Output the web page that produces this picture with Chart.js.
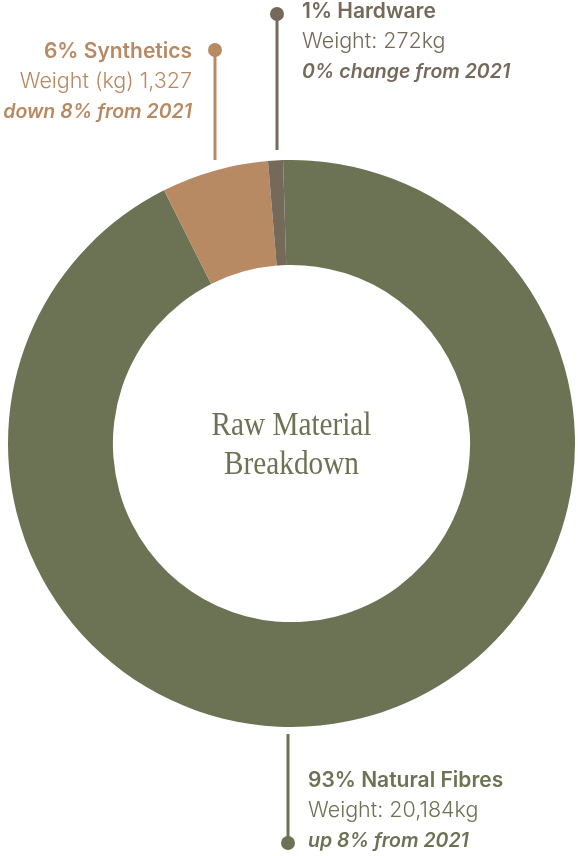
<!DOCTYPE html>
<html>
<head>
<meta charset="utf-8">
<script src="https://cdn.jsdelivr.net/npm/chart.js@4"></script>
<style>
  html, body { margin: 0; padding: 0; background: #fff; }
  #wrap { position: relative; width: 578px; height: 856px; }
</style>
</head>
<body>
<div id="wrap"><canvas id="donut" width="578" height="856"></canvas></div>
<script>
// data
var categories = ['Natural Fibres', 'Synthetics', 'Hardware'];
var shares = [93.05, 6.1, 0.85];           // slice sizes as drawn (%)
var shareLabels = ['93%', '6%', '1%'];
var weightLabels = ['Weight: 20,184kg', 'Weight (kg) 1,327', 'Weight: 272kg'];
var changeLabels = ['up 8% from 2021', 'down 8% from 2021', '0% change from 2021'];
var colors = ['#6c7354', '#b88a63', '#75695a'];

var SANS = 'Inter, "Noto Sans", sans-serif';

// callouts: dot + leader line + three text lines
var callouts = [
  { i: 0, x: 288, dotY: 843, lineTop: 734, tx: 308, ty: 787, align: 'left' },
  { i: 1, x: 215, dotY: 50, lineBot: 160, tx: 192, ty: 58, align: 'right' },
  { i: 2, x: 277, dotY: 14, lineBot: 150, tx: 302, ty: 18, align: 'left' }
];

var annotations = {
  id: 'annotations',
  afterDraw: function (chart) {
    var c = chart.ctx;
    c.save();
    callouts.forEach(function (o) {
      var col = colors[o.i];
      c.strokeStyle = col;
      c.fillStyle = col;
      c.lineWidth = 3;
      c.beginPath();
      if (o.lineTop !== undefined) {
        c.moveTo(o.x, o.lineTop); c.lineTo(o.x, o.dotY);
      } else {
        c.moveTo(o.x, o.dotY); c.lineTo(o.x, o.lineBot);
      }
      c.stroke();
      c.beginPath();
      c.arc(o.x, o.dotY, 7, 0, Math.PI * 2);
      c.fill();

      c.textAlign = o.align;
      c.textBaseline = 'alphabetic';
      c.font = '600 21px ' + SANS;
      c.fillText(shareLabels[o.i] + ' ' + categories[o.i], o.tx, o.ty);
      c.font = '300 21.5px ' + SANS;
      c.fillText(weightLabels[o.i], o.tx, o.ty + 30);
      c.font = 'italic 600 19.5px ' + SANS;
      c.fillText(changeLabels[o.i], o.tx, o.ty + 60);
    });

    // centre title, condensed serif
    var a = chart.getDatasetMeta(0).data[0];
    c.fillStyle = colors[0];
    c.textAlign = 'center';
    c.font = '34px "Liberation Serif", serif';
    [['Raw Material', -9], ['Breakdown', 30]].forEach(function (t) {
      c.save();
      c.translate(a.x, a.y + t[1]);
      c.scale(0.86, 1);
      c.fillText(t[0], 0, 0);
      c.restore();
    });
    c.restore();
  }
};

new Chart(document.getElementById('donut').getContext('2d'), {
  type: 'doughnut',
  data: {
    labels: categories,
    datasets: [{
      data: shares,
      backgroundColor: colors,
      borderWidth: 0,
      hoverOffset: 0
    }]
  },
  options: {
    responsive: false,
    animation: false,
    cutout: '63%',
    rotation: -1.7,
    layout: { padding: { left: 8, top: 160, right: 3, bottom: 129 } },
    plugins: { legend: { display: false }, tooltip: { enabled: false } }
  },
  plugins: [annotations]
});
</script>
</body>
</html>
